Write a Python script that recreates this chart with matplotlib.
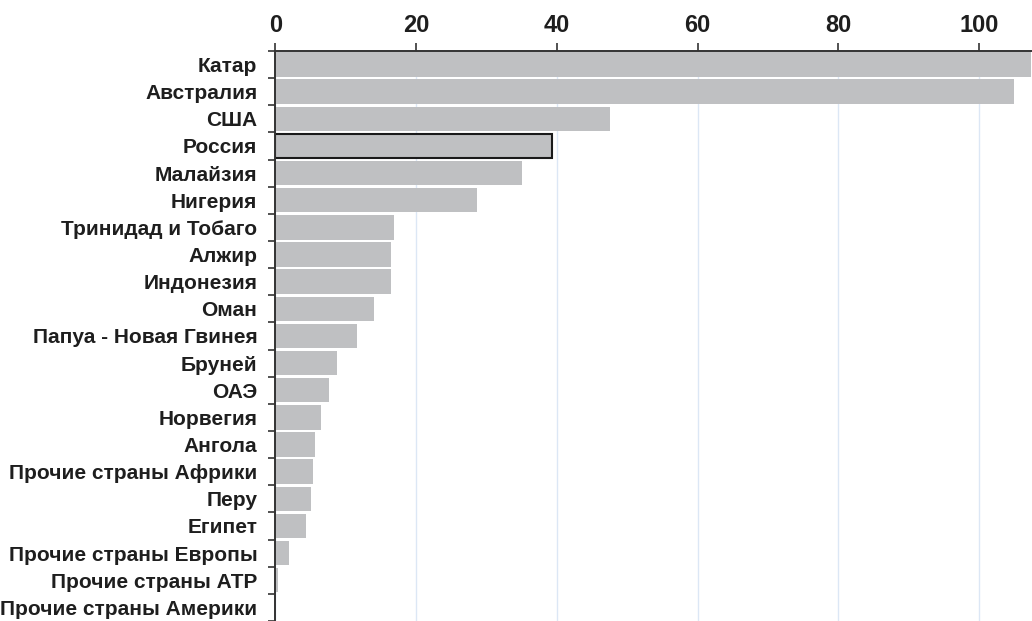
import numpy as np
import matplotlib.pyplot as plt
from matplotlib.ticker import FixedLocator

countries = ['Катар', 'Австралия', 'США', 'Россия', 'Малайзия', 'Нигерия',
             'Тринидад и Тобаго', 'Алжир', 'Индонезия', 'Оман',
             'Папуа - Новая Гвинея', 'Бруней', 'ОАЭ', 'Норвегия', 'Ангола',
             'Прочие страны Африки', 'Перу', 'Египет', 'Прочие страны Европы',
             'Прочие страны АТР', 'Прочие страны Америки']
values = [107.3, 104.9, 47.5, 39.3, 35.1, 28.7, 16.9, 16.4, 16.4, 14.0,
          11.6, 8.7, 7.6, 6.5, 5.7, 5.3, 5.0, 4.4, 1.9, 0.35, 0.05]
xticks = [0, 20, 40, 60, 80, 100]
highlight = 'Россия'

plt.rcParams['font.family'] = ['Liberation Sans', 'DejaVu Sans']

fig = plt.figure(figsize=(10.32, 6.21), dpi=100)
ax = fig.add_axes([0.2668, 0.0, 0.7332, 0.918])

y = np.arange(len(countries))
edges = ['#1a1a1a' if c == highlight else 'none' for c in countries]
lws = [1.5 if c == highlight else 0 for c in countries]
ax.barh(y, values, height=0.9, color='#bfc0c2', edgecolor=edges,
        linewidth=lws, zorder=2)

ax.set_xlim(0, 107.5)
ax.set_ylim(len(countries) - 0.5, -0.5)

ax.xaxis.tick_top()
ax.set_xticks(xticks)
ax.set_xticklabels([str(t) for t in xticks], fontsize=17, fontweight='bold',
                   color='#1e1e1e')
ax.tick_params(axis='x', direction='out', length=5.8, width=1.2,
               color='#333333', pad=4.5)
ax.grid(axis='x', color='#dce7f5', linewidth=1, zorder=0)

# country names sit between small ticks marking the bar boundaries
ax.set_yticks(y)
ax.set_yticklabels(countries, fontsize=15, fontweight='bold', color='#1e1e1e')
ax.tick_params(axis='y', which='major', length=0, pad=13)
ax.yaxis.set_minor_locator(FixedLocator(np.arange(-0.5, len(countries), 1)))
ax.tick_params(axis='y', which='minor', direction='out', length=5,
               width=1.2, color='#333333')

for side in ['right', 'bottom']:
    ax.spines[side].set_visible(False)
for side in ['top', 'left']:
    ax.spines[side].set_color('#333333')
    ax.spines[side].set_linewidth(1.4)
    ax.spines[side].set_zorder(3)

fig.savefig('out.png', dpi=100)
